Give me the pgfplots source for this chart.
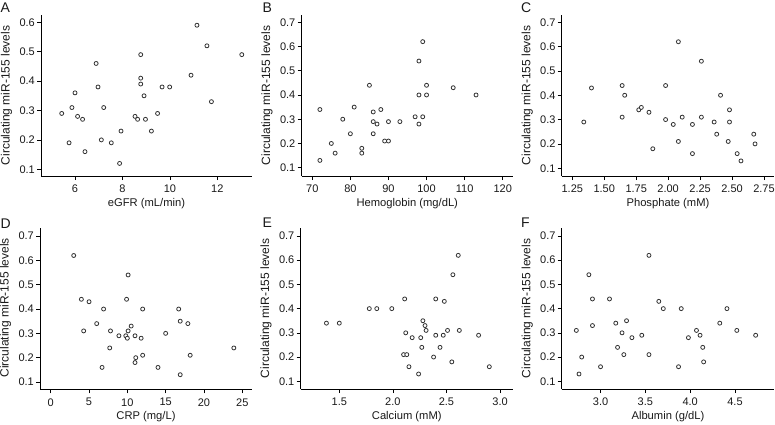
\documentclass[border=0pt]{standalone}
\usepackage{fontspec}
\setmainfont{Liberation Sans}
\usepackage{pgfplots}
\pgfplotsset{compat=1.18}
\newcommand{\tfont}{\fontsize{11}{13}\selectfont}
\newcommand{\xlfont}{\fontsize{11.2}{13}\selectfont}
\newcommand{\ylfont}{\fontsize{12}{14}\selectfont}
\pgfplotsset{
  panel/.style={
    scale only axis,
    axis x line*=bottom, axis y line*=left,
    axis line style={-, line width=0.6pt, black},
    tick align=outside, major tick length=4pt,
    tick style={line width=0.6pt, black},
    /pgf/number format/assume math mode=true,
    ticklabel style={font=\tfont, text=black!90},
    yticklabel style={/pgf/number format/fixed, /pgf/number format/fixed zerofill, /pgf/number format/precision=1, inner sep=2pt},
    xticklabel style={yshift=-1.5pt},
    every axis x label/.style={at={(axis description cs:0.5,0)}, yshift=-27.5pt, anchor=center, font=\xlfont, text=black!90},
    every axis y label/.style={at={(axis description cs:0,0.5)}, xshift=-34.5pt, rotate=90, anchor=center, inner sep=0pt, font=\ylfont, text=black!90},
    ylabel={Circulating miR-155 levels},
    clip=false,
  },
  dots/.style={only marks, mark=*, mark size=2pt, mark options={draw=black!80, fill=white, line width=0.8pt}},
}
\begin{document}
\begin{tikzpicture}[x=1pt,y=1pt]
% A
\begin{axis}[panel, at={(41pt,248pt)}, anchor=south west, width=211pt, height=161pt,
  xmin=4.567, xmax=13.46, ymin=0.0772, ymax=0.6248,
  xtick={6,8,10,12}, ytick={0.1,0.2,0.3,0.4,0.5,0.6},
  xlabel={eGFR (mL/min)}]
\addplot[dots] coordinates {
(5.44,0.29) (5.75,0.19) (5.87,0.31) (6.00,0.36) (6.11,0.28) (6.32,0.27) (6.42,0.16)
(6.89,0.46) (6.97,0.38) (7.11,0.20) (7.21,0.31) (7.53,0.19) (7.88,0.12) (7.94,0.23)
(8.53,0.28) (8.64,0.27) (8.77,0.49) (8.77,0.41) (8.77,0.39) (8.91,0.35) (8.97,0.27)
(9.22,0.23) (9.48,0.29) (9.67,0.38) (9.99,0.38) (10.89,0.42) (11.14,0.59) (11.56,0.52)
(11.75,0.33) (13.03,0.49)};
\end{axis}
% B
\begin{axis}[panel, at={(301.5pt,248pt)}, anchor=south west, width=211.5pt, height=161pt,
  xmin=67.17, xmax=122.7, ymin=0.0657, ymax=0.730,
  xtick={70,80,90,100,110,120}, ytick={0.1,0.2,0.3,0.4,0.5,0.6,0.7},
  xlabel={Hemoglobin (mg/dL)}]
\addplot[dots] coordinates {
(72,0.34) (72,0.13) (75,0.20) (76,0.16) (78,0.30) (80,0.24) (81,0.35) (83,0.18) (83,0.16)
(85,0.44) (86,0.33) (86,0.29) (86,0.24) (87,0.28) (88,0.34) (89,0.21) (90,0.21) (90,0.29)
(93,0.29) (97,0.31) (98,0.54) (98,0.40) (98,0.28) (99,0.62) (99,0.31) (100,0.44) (100,0.40)
(107,0.43) (113,0.40)};
\end{axis}
% C
\begin{axis}[panel, at={(561.7pt,248pt)}, anchor=south west, width=212.5pt, height=161pt,
  xmin=1.167, xmax=2.83, ymin=0.068, ymax=0.730,
  xtick={1.25,1.50,1.75,2.00,2.25,2.50,2.75}, ytick={0.1,0.2,0.3,0.4,0.5,0.6,0.7},
  xticklabel style={/pgf/number format/fixed, /pgf/number format/fixed zerofill, /pgf/number format/precision=2},
  xlabel={Phosphate (mM)}]
\addplot[dots] coordinates {
(1.34,0.29) (1.40,0.43) (1.64,0.44) (1.64,0.31) (1.66,0.40) (1.77,0.34) (1.79,0.35)
(1.85,0.33) (1.88,0.18) (1.98,0.44) (1.98,0.30) (2.04,0.28) (2.08,0.62) (2.08,0.21)
(2.11,0.31) (2.19,0.28) (2.19,0.16) (2.26,0.54) (2.26,0.31) (2.36,0.29) (2.38,0.24)
(2.41,0.40) (2.47,0.21) (2.48,0.34) (2.48,0.29) (2.54,0.16) (2.57,0.13) (2.67,0.24)
(2.68,0.20)};
\end{axis}
% D
\begin{axis}[panel, at={(40pt,34.7pt)}, anchor=south west, width=212pt, height=161.3pt,
  xmin=-1.40, xmax=26.27, ymin=0.070, ymax=0.733,
  xtick={0,5,10,15,20,25}, ytick={0.1,0.2,0.3,0.4,0.5,0.6,0.7},
  ylabel style={xshift=1pt},
  xlabel={CRP (mg/L)}]
\addplot[dots] coordinates {
(3.0,0.62) (4.0,0.44) (4.3,0.31) (5.0,0.43) (6.0,0.34) (6.7,0.16) (6.9,0.40) (7.7,0.24)
(7.8,0.31) (8.9,0.29) (9.8,0.29) (9.9,0.44) (10.0,0.28) (10.1,0.54) (10.1,0.31) (10.5,0.33)
(11.0,0.18) (11.0,0.29) (11.1,0.20) (11.8,0.28) (12.0,0.40) (12.0,0.21) (14.0,0.16)
(15.0,0.30) (16.7,0.40) (16.9,0.35) (16.9,0.13) (17.9,0.34) (18.2,0.21) (23.9,0.24)};
\end{axis}
% E
\begin{axis}[panel, at={(300.5pt,35pt)}, anchor=south west, width=212.5pt, height=161pt,
  xmin=1.138, xmax=3.121, ymin=0.068, ymax=0.733,
  xtick={1.5,2.0,2.5,3.0}, ytick={0.1,0.2,0.3,0.4,0.5,0.6,0.7},
  xticklabel style={/pgf/number format/fixed, /pgf/number format/fixed zerofill, /pgf/number format/precision=1},
  xlabel={Calcium (mM)}]
\addplot[dots] coordinates {
(1.38,0.34) (1.50,0.34) (1.78,0.40) (1.85,0.40) (1.99,0.40) (2.11,0.44) (2.12,0.30)
(2.10,0.21) (2.13,0.21) (2.15,0.16) (2.18,0.28) (2.24,0.13) (2.26,0.28) (2.27,0.24)
(2.28,0.35) (2.30,0.33) (2.31,0.31) (2.38,0.20) (2.40,0.44) (2.40,0.29) (2.44,0.24)
(2.47,0.29) (2.48,0.43) (2.51,0.31) (2.55,0.18) (2.56,0.54) (2.61,0.62) (2.62,0.31)
(2.80,0.29) (2.90,0.16)};
\end{axis}
% F
\begin{axis}[panel, at={(561.7pt,35pt)}, anchor=south west, width=212.5pt, height=161pt,
  xmin=2.567, xmax=4.937, ymin=0.068, ymax=0.733,
  xtick={3.0,3.5,4.0,4.5}, ytick={0.1,0.2,0.3,0.4,0.5,0.6,0.7},
  xticklabel style={/pgf/number format/fixed, /pgf/number format/fixed zerofill, /pgf/number format/precision=1},
  xlabel={Albumin (g/dL)}]
\addplot[dots] coordinates {
(2.73,0.31) (2.76,0.13) (2.79,0.20) (2.87,0.54) (2.91,0.44) (2.91,0.33) (3.00,0.16)
(3.10,0.44) (3.17,0.34) (3.19,0.24) (3.24,0.30) (3.26,0.21) (3.29,0.35) (3.35,0.28)
(3.46,0.29) (3.54,0.62) (3.54,0.21) (3.65,0.43) (3.70,0.40) (3.87,0.16) (3.90,0.40)
(3.98,0.28) (4.07,0.31) (4.11,0.29) (4.14,0.24) (4.15,0.18) (4.33,0.34) (4.41,0.40)
(4.52,0.31) (4.73,0.29)};
\end{axis}
\begin{scope}[every node/.style={font=\fontsize{14}{16}\selectfont, text=black!90, inner sep=0pt, anchor=base west}]
\node at (0.5,411) {A};
\node at (262.5,411) {B};
\node at (521,411) {C};
\node at (0.5,196) {D};
\node at (262.5,197) {E};
\node at (521,197) {F};
\end{scope}
\pgfresetboundingbox
\path[use as bounding box] (0,0) rectangle (775,424);
\end{tikzpicture}
\end{document}
